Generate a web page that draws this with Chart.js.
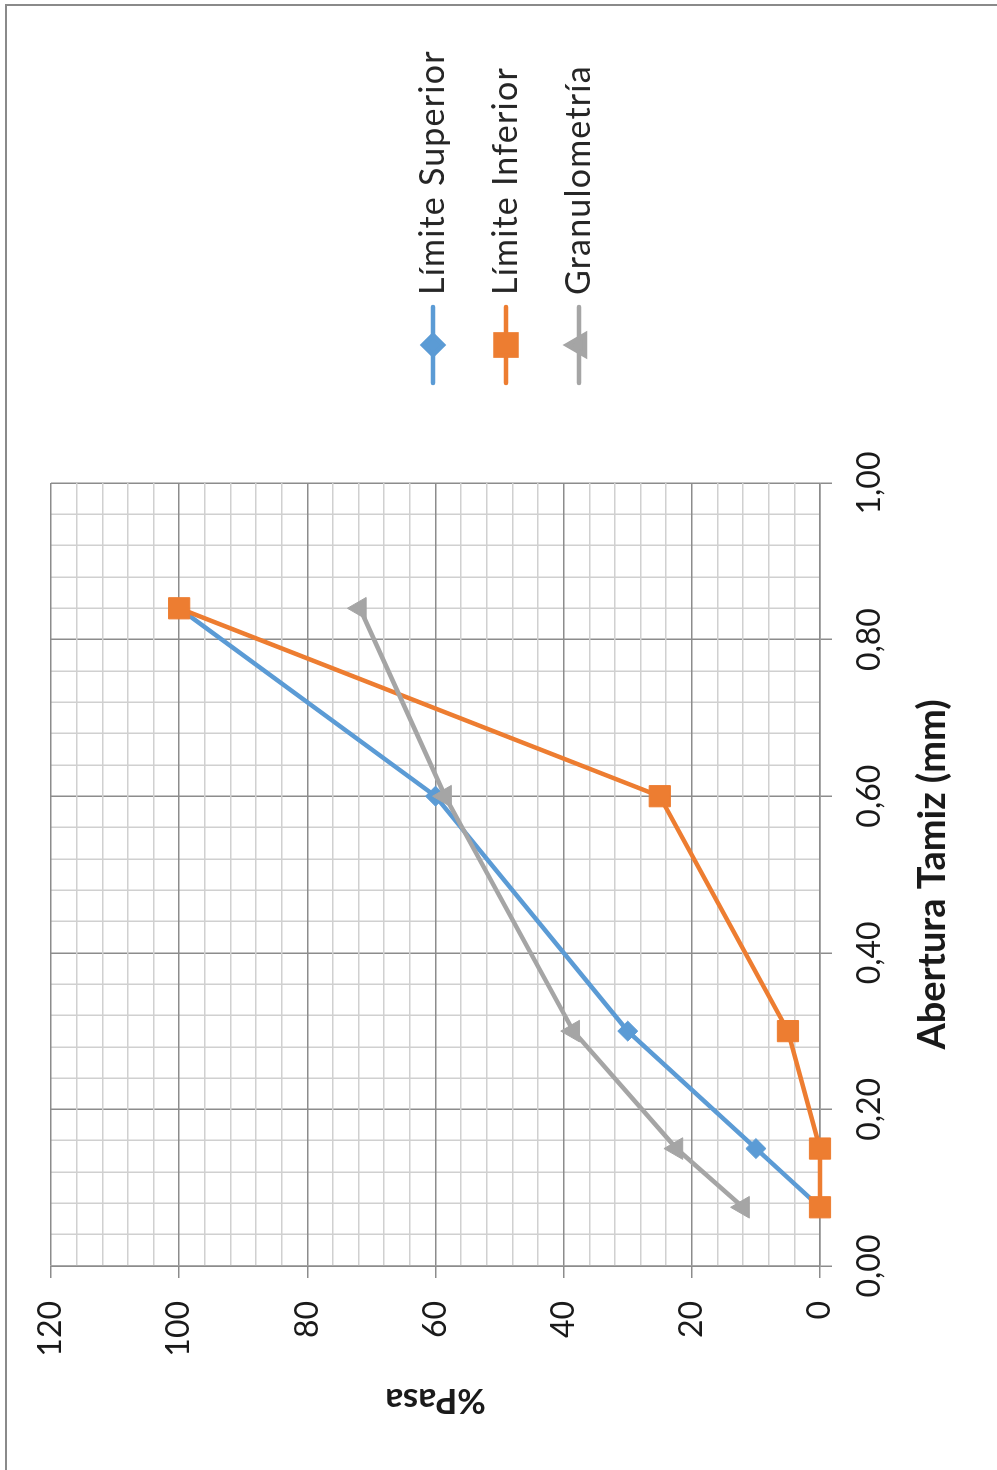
<!DOCTYPE html>
<html>
<head>
<meta charset="utf-8">
<title>Curva granulométrica</title>
<script src="https://cdn.jsdelivr.net/npm/chart.js@4.4.1/dist/chart.umd.min.js"></script>
<style>
  html, body { margin: 0; padding: 0; background: #fff; overflow: hidden; }
  #page { position: relative; width: 997px; height: 1470px; overflow: hidden; }
  /* the chart is laid out landscape and turned a quarter turn to the left */
  #wrap { position: absolute; left: 0; top: 0; width: 1470px; height: 997px;
          transform-origin: 0 0; transform: translate(0, 1470px) rotate(-90deg); }
</style>
</head>
<body>
<div id="page"><div id="wrap"><canvas id="curva" width="1470" height="997"></canvas></div></div>
<script>
// abertura del tamiz (mm) y % que pasa
const aberturas = [0.075, 0.15, 0.30, 0.60, 0.84];
const limiteSuperior = [0, 10, 30, 60, 100];
const limiteInferior = [0, 0, 5, 25, 100];
const granulometria = [12.0, 22.4, 38.5, 58.5, 71.8];

const xTickLabels = ['0,00', '0,20', '0,40', '0,60', '0,80', '1,00'];
const yTickLabels = ['0', '20', '40', '60', '80', '100', '120'];

const MINOR = 5; // subdivisiones por división principal
const xGrid = [];
for (let i = 0; i <= (xTickLabels.length - 1) * MINOR; i++) xGrid.push(i / ((xTickLabels.length - 1) * MINOR));
const yGrid = [];
for (let i = 0; i <= (yTickLabels.length - 1) * MINOR; i++) yGrid.push(i * 20 / MINOR);

const FONT = 'Lato';
const majorColor = '#8c8c8c';
const minorColor = '#d0d0d0';

function puntos(ys) {
  return aberturas.map((x, i) => ({ x: x, y: ys[i] }));
}

// marco exterior
const marco = {
  id: 'marco',
  beforeDraw(chart) {
    const ctx = chart.ctx;
    ctx.save();
    ctx.fillStyle = '#fff';
    ctx.fillRect(0, 0, chart.width, chart.height);
    ctx.strokeStyle = '#8a8a8a';
    ctx.lineWidth = 2;
    ctx.beginPath();
    ctx.moveTo(0, 6);
    ctx.lineTo(1465, 6);
    ctx.lineTo(1465, chart.height);
    ctx.stroke();
    ctx.restore();
  }
};

// leyenda con línea y marcador, apilada a la derecha
const leyenda = {
  id: 'leyenda',
  afterDraw(chart, args, opts) {
    const ctx = chart.ctx;
    ctx.save();
    chart.data.datasets.forEach((ds, i) => {
      const y = opts.top + i * opts.gap;
      ctx.strokeStyle = ds.borderColor;
      ctx.lineWidth = ds.borderWidth;
      ctx.lineCap = 'round';
      ctx.beginPath();
      ctx.moveTo(opts.left, y);
      ctx.lineTo(opts.left + opts.lineLength, y);
      ctx.stroke();
      ctx.fillStyle = ds.backgroundColor;
      ctx.strokeStyle = ds.borderColor;
      Chart.helpers.drawPoint(ctx, {
        pointStyle: ds.pointStyle, radius: ds.legendRadius, rotation: 0, borderWidth: 1
      }, opts.left + opts.lineLength / 2, y);
      ctx.fillStyle = '#262626';
      ctx.font = opts.fontSize + 'px ' + FONT;
      ctx.letterSpacing = opts.letterSpacing;
      ctx.textBaseline = 'middle';
      ctx.textAlign = 'left';
      ctx.fillText(ds.label, opts.left + opts.lineLength + opts.textGap, y);
    });
    ctx.restore();
  }
};

new Chart(document.getElementById('curva'), {
  type: 'scatter',
  data: {
    datasets: [{
      label: 'Límite Superior',
      data: puntos(limiteSuperior),
      borderColor: '#5B9BD5',
      backgroundColor: '#5B9BD5',
      borderWidth: 4.5,
      pointStyle: 'rectRot',
      pointRadius: 10,
      legendRadius: 10,
      pointBorderWidth: 1,
      showLine: true,
      clip: false,
      order: 3
    }, {
      label: 'Límite Inferior',
      data: puntos(limiteInferior),
      borderColor: '#ED7D31',
      backgroundColor: '#ED7D31',
      borderWidth: 4.5,
      pointStyle: 'rect',
      pointRadius: 15,
      legendRadius: 15,
      pointBorderWidth: 1,
      showLine: true,
      clip: false,
      order: 2
    }, {
      label: 'Granulometría',
      data: puntos(granulometria),
      borderColor: '#A5A5A5',
      backgroundColor: '#A5A5A5',
      borderWidth: 4.5,
      pointStyle: 'triangle',
      pointRadius: 12.5,
      legendRadius: 12,
      pointBorderWidth: 1,
      showLine: true,
      clip: false,
      order: 1
    }]
  },
  options: {
    responsive: false,
    animation: false,
    devicePixelRatio: 1,
    layout: { padding: { left: 5, top: 51, right: 483, bottom: 5 } },
    plugins: {
      legend: { display: false },
      tooltip: { enabled: false },
      leyenda: { left: 1087, top: 433, gap: 73, lineLength: 76, textGap: 12, fontSize: 34, letterSpacing: '1.2px' }
    },
    scales: {
      x: {
        type: 'linear',
        min: 0,
        max: 1,
        afterBuildTicks: axis => { axis.ticks = xGrid.map(v => ({ value: v })); },
        afterFit: axis => { axis.height = 172; },
        ticks: {
          autoSkip: false,
          maxRotation: 0,
          padding: 18,
          color: '#1a1a1a',
          font: { family: FONT, size: 32 },
          callback: (v, i) => (i % MINOR === 0 ? xTickLabels[i / MINOR] : '')
        },
        grid: {
          color: c => (c.index % MINOR === 0 ? majorColor : minorColor),
          tickColor: c => (c.index % MINOR === 0 ? majorColor : 'rgba(0,0,0,0)'),
          lineWidth: 1.5,
          tickLength: 12
        },
        border: { color: majorColor, width: 1.5 },
        title: {
          display: true,
          text: 'Abertura Tamiz (mm)',
          color: '#1a1a1a',
          font: { family: FONT, size: 38, weight: 'bold' },
          padding: { top: 0, bottom: 36 }
        }
      },
      y: {
        type: 'linear',
        min: 0,
        max: 120,
        afterBuildTicks: axis => { axis.ticks = yGrid.map(v => ({ value: v })); },
        afterFit: axis => { axis.width = 199; },
        ticks: {
          autoSkip: false,
          padding: 23,
          color: '#1a1a1a',
          font: { family: FONT, size: 32 },
          callback: (v, i) => (i % MINOR === 0 ? yTickLabels[i / MINOR] : '')
        },
        grid: {
          color: c => (c.index % MINOR === 0 ? majorColor : minorColor),
          tickColor: c => (c.index % MINOR === 0 ? majorColor : 'rgba(0,0,0,0)'),
          lineWidth: 1.5,
          tickLength: 12
        },
        border: { color: majorColor, width: 1.5 },
        title: {
          display: true,
          text: '%Pasa',
          color: '#1a1a1a',
          font: { family: FONT, size: 35, weight: 'bold' },
          padding: { top: 44, bottom: 0 }
        }
      }
    }
  },
  plugins: [marco, leyenda]
});
</script>
</body>
</html>
